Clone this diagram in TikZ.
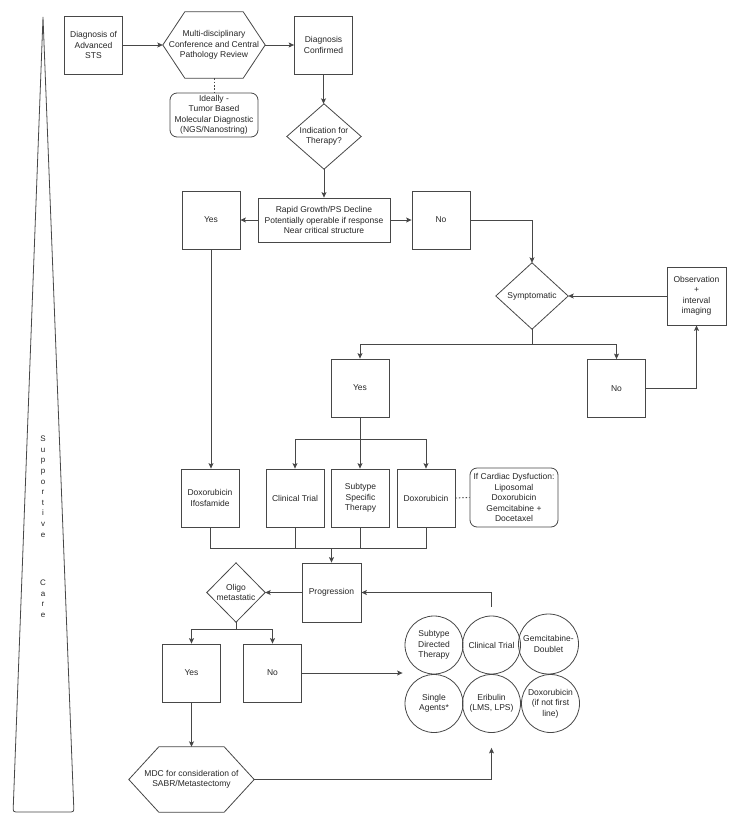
\documentclass[tikz,border=0pt]{standalone}
\usepackage{fontspec}
\setmainfont{Liberation Sans}
\usetikzlibrary{arrows.meta,calc}
\begin{document}
\begin{tikzpicture}[x=1pt,y=-1pt,
  every node/.style={font=\fontsize{8.5}{10.5}\selectfont, text=black!85},
  ln/.style={draw=black!72, line width=0.8pt},
  arr/.style={ln, -{Stealth[length=5.5pt,width=5pt,inset=1.2pt]}},
  dotln/.style={ln, dash pattern=on 1.6pt off 1.8pt},
  box/.style={ln, rectangle, minimum width=58pt, minimum height=58pt, inner sep=1pt, align=center},
  rbox/.style={ln, rectangle, rounded corners=7pt, inner sep=1pt, align=center},
  shp/.style={inner sep=0pt, align=center},
  circ/.style={ln, circle, minimum size=58pt, inner sep=0pt, align=center}
]
\useasboundingbox (0,0) rectangle (738,825);

% Supportive care triangle
\draw[ln] (43,17) -- (73.7,806) .. controls (74,812) .. (68,812) -- (19,812) .. controls (13,812) .. (13.3,806) -- cycle;
\node[inner sep=0pt, align=center, anchor=north, font=\fontsize{8}{10.6}\selectfont] (sup) at (43,436)
  {S\\u\\p\\p\\o\\r\\t\\i\\v\\e\\[38pt]C\\a\\r\\e};

% top row
\node[box] (sts) at (93.5,45) {Diagnosis of\\Advanced\\STS};
\node[shp, minimum width=102pt, minimum height=66pt] (mdc) at (214,45) {Multi-disciplinary\\Conference and Central\\Pathology Review};
\draw[ln] (mdc.west) -- ($(mdc.north west)+(22,0)$) -- ($(mdc.north east)+(-22,0)$) -- (mdc.east) -- ($(mdc.south east)+(-22,0)$) -- ($(mdc.south west)+(22,0)$) -- cycle;
\node[box] (conf) at (323.5,45) {Diagnosis\\Confirmed};
\node[rbox, minimum width=88pt, minimum height=44pt] (ideal) at (214,115) {Ideally -\\Tumor Based\\Molecular Diagnostic\\(NGS/Nanostring)};

\node[shp, minimum width=74pt, minimum height=65pt] (ind) at (324,136.5) {Indication for\\Therapy?};
\draw[ln] (ind.north) -- (ind.east) -- (ind.south) -- (ind.west) -- cycle;

\node[ln, rectangle, minimum width=132pt, minimum height=44pt, inner sep=1pt, align=center] (rapid) at (324,220) {Rapid Growth/PS Decline\\Potentially operable if response\\Near critical structure};
\node[box] (yes1) at (211,220) {Yes};
\node[box] (no1) at (441,220) {No};

\node[shp, minimum width=72pt, minimum height=66pt] (symp) at (532,296) {Symptomatic};
\draw[ln] (symp.north) -- (symp.east) -- (symp.south) -- (symp.west) -- cycle;
\node[box, minimum width=59pt] (obs) at (696.5,296) {Observation\\+\\interval\\imaging};
\node[box] (no2) at (616.5,388.5) {No};
\node[box] (yes2) at (360,388) {Yes};

\node[box] (dox1) at (210,498) {Doxorubicin\\Ifosfamide};
\node[box] (ct) at (295,498) {Clinical Trial};
\node[box] (sst) at (360.5,498) {Subtype\\Specific\\Therapy};
\node[box] (dox2) at (426,498) {Doxorubicin};
\node[rbox, minimum width=88pt, minimum height=59pt] (card) at (514,497.5) {If Cardiac Dysfuction:\\Liposomal\\Doxorubicin\\Gemcitabine +\\Docetaxel};

\node[box, minimum height=59pt, minimum width=59pt] (prog) at (331.5,592.5) {Progression};
\node[shp, minimum width=58pt, minimum height=59pt] (oligo) at (236,592.5) {Oligo\\metastatic};
\draw[ln] (oligo.north) -- (oligo.east) -- (oligo.south) -- (oligo.west) -- cycle;

\node[box] (yes3) at (191.5,673) {Yes};
\node[box] (no3) at (272.5,673) {No};
\node[shp, minimum width=125pt, minimum height=65pt] (mdc2) at (191.5,779.5) {MDC for consideration of\\SABR/Metastectomy};
\draw[ln] (mdc2.west) -- ($(mdc2.north west)+(30,0)$) -- ($(mdc2.north east)+(-30,0)$) -- (mdc2.east) -- ($(mdc2.south east)+(-30,0)$) -- ($(mdc2.south west)+(30,0)$) -- cycle;

% circles
\node[circ] (csub) at (434,645) {Subtype\\Directed\\Therapy};
\node[circ] (ctri) at (491.5,645) {Clinical Trial};
\node[circ, minimum size=60pt] (cgem) at (548.5,644) {Gemcitabine-\\Doublet};
\node[circ] (csin) at (434,703.5) {Single\\Agents*};
\node[circ] (ceri) at (491.5,703.5) {Eribulin\\(LMS, LPS)};
\node[circ] (cdox) at (550.5,703.5) {Doxorubicin\\(if not first\\line)};

% connectors
\draw[arr] (sts.east) -- (mdc.west);
\draw[arr] (mdc.east) -- (conf.west);
\draw[dotln] (mdc.south) -- (ideal.north);
\draw[arr] (conf.south) -- (conf.south |- ind.north);
\draw[arr] (ind.south) -- (rapid.north);
\draw[arr] (rapid.west) -- (yes1.east);
\draw[arr] (rapid.east) -- (no1.west);
\draw[arr] (no1.east) -| (symp.north);
\draw[arr] (obs.west) -- (symp.east);
\coordinate (sj) at ($(symp.south)+(0,15)$);
\draw[ln] (symp.south) -- (sj);
\draw[arr] (sj) -| (no2.north);
\draw[arr] (sj) -| (yes2.north);
\draw[arr] (no2.east) -| (obs.south);
\draw[arr] (yes1.south) -- (yes1.south |- dox1.north);
\coordinate (yj) at ($(yes2.south)+(0,22)$);
\draw[arr] (yes2.south) -- (yes2.south |- sst.north);
\draw[arr] (yj) -| (ct.north);
\draw[arr] (yj) -| (dox2.north);
\draw[dotln] (dox2.east) -- (card.west);

\coordinate (mj) at ($(prog.north)+(0,-14)$);
\draw[ln] (dox1.south) |- (mj);
\draw[ln] (dox2.south) |- (mj);
\draw[ln] (ct.south) -- (ct.south |- mj);
\draw[ln] (sst.south) -- (sst.south |- mj);
\draw[arr] (mj) -- (prog.north);
\draw[arr] (prog.west) -- (oligo.east);
\coordinate (ctop) at ($(ctri.north)+(0,-9)$);
\draw[arr] (ctop) |- (prog.east);

\coordinate (oj) at ($(oligo.south)+(0,7)$);
\draw[ln] (oligo.south) -- (oj);
\draw[arr] (oj) -| (yes3.north);
\draw[arr] (oj) -| (no3.north);
\coordinate (cin) at ($(csub.west |- no3.east)+(-2,0)$);
\draw[arr] (no3.east) -- (cin);
\draw[arr] (yes3.south) -- (mdc2.north);
\coordinate (cbot) at ($(ceri.south)+(0,15)$);
\draw[arr] (mdc2.east) -| (cbot);
\end{tikzpicture}
\end{document}
